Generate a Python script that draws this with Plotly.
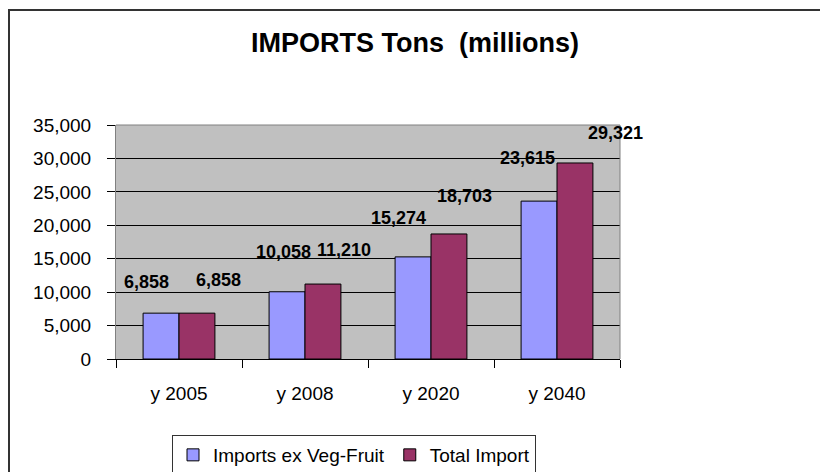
import plotly.graph_objects as go

# chart data
categories = ['y 2005', 'y 2008', 'y 2020', 'y 2040']
imports_ex_veg_fruit = [6858, 10058, 15274, 23615]
total_import = [6858, 11210, 18703, 29321]
series_names = ['Imports ex Veg-Fruit', 'Total Import']
y_tick_values = [0, 5000, 10000, 15000, 20000, 25000, 30000, 35000]

# label placement (pixel offsets from category centre / bar top), as in the original
blue_dx = [-33, -22, -33, -30]
blue_dy = [31, 40, 39, 43]
red_dx = [39, 39, 33, 58]
red_dy = [33, 34, 38, 30]

# the page body has an 8px margin, so work in window pixels and shift
OFF = 8
W, H = 828 - OFF, 472 - OFF
L, T = 116 - OFF, 125 - OFF
pw, ph = 504, 234
R, B = W - L - pw, H - T - ph


def px_x(x):
    # window pixel -> paper fraction
    return (x - OFF - L) / pw


def px_y(y):
    return (T + ph - (y - OFF)) / ph


font = 'Liberation Sans, Arial, sans-serif'

fig = go.Figure()

fig.add_trace(go.Bar(
    x=categories, y=imports_ex_veg_fruit, name=series_names[0],
    marker=dict(color='#9999FF', line=dict(color='black', width=1)),
    hoverinfo='x+y'
))
fig.add_trace(go.Bar(
    x=categories, y=total_import, name=series_names[1],
    marker=dict(color='#993366', line=dict(color='black', width=1)),
    hoverinfo='x+y'
))

# data labels
for vals, dxs, dys in [(imports_ex_veg_fruit, blue_dx, blue_dy), (total_import, red_dx, red_dy)]:
    for cat, v, dx, dy in zip(categories, vals, dxs, dys):
        fig.add_annotation(
            x=cat, y=v, xref='x', yref='y', text=f'{v:,}', showarrow=False,
            xshift=dx, yshift=dy, yanchor='middle',
            font=dict(family=font, size=18, color='black', weight='bold')
        )

# outer chart frame and plot-area border
fig.add_shape(type='rect', xref='paper', yref='paper',
              x0=px_x(9), y0=px_y(490), x1=px_x(850), y1=px_y(10),
              line=dict(color='#333333', width=2), fillcolor='rgba(0,0,0,0)')
fig.add_shape(type='line', xref='paper', yref='paper', x0=0, x1=1, y0=1, y1=1,
              line=dict(color='#808080', width=1), layer='above')
fig.add_shape(type='line', xref='paper', yref='paper', x0=1, x1=1, y0=0, y1=1,
              line=dict(color='#808080', width=1), layer='above')

fig.update_layout(
    width=W, height=H,
    margin=dict(l=L, r=R, t=T, b=B, autoexpand=False),
    paper_bgcolor='white',
    plot_bgcolor='#C0C0C0',
    barmode='group',
    bargap=0.43,
    bargroupgap=0,
    font=dict(family=font, size=19, color='black'),
    title=dict(
        text='<b>IMPORTS Tons  (millions)</b>',
        font=dict(family=font, size=27, color='black'),
        xref='container', x=(415 - OFF) / W, xanchor='center',
        yref='container', y=1 - (43 - OFF) / H, yanchor='middle'
    ),
    legend=dict(
        orientation='h',
        x=px_x(172), xanchor='left',
        y=px_y(435), yanchor='top',
        bordercolor='#333333', borderwidth=1,
        font=dict(family=font, size=19, color='black'),
        itemwidth=30,
        traceorder='normal'
    ),
    showlegend=True
)

fig.update_xaxes(
    type='category',
    range=[-0.5, len(categories) - 0.5],
    showline=True, linecolor='black', linewidth=1,
    ticks='outside', tickson='boundaries', ticklen=8, tickcolor='black',
    showgrid=False,
    ticklabelstandoff=17,
    tickfont=dict(family=font, size=19, color='black')
)

fig.update_yaxes(
    range=[0, 35000],
    tickvals=y_tick_values,
    tickformat=',d',
    showline=True, linecolor='#808080', linewidth=1,
    ticks='outside', ticklen=8, tickcolor='black',
    showgrid=True, gridcolor='black', gridwidth=1,
    zeroline=False,
    ticklabelstandoff=12,
    tickfont=dict(family=font, size=19, color='black')
)

fig.write_html('out.html')
